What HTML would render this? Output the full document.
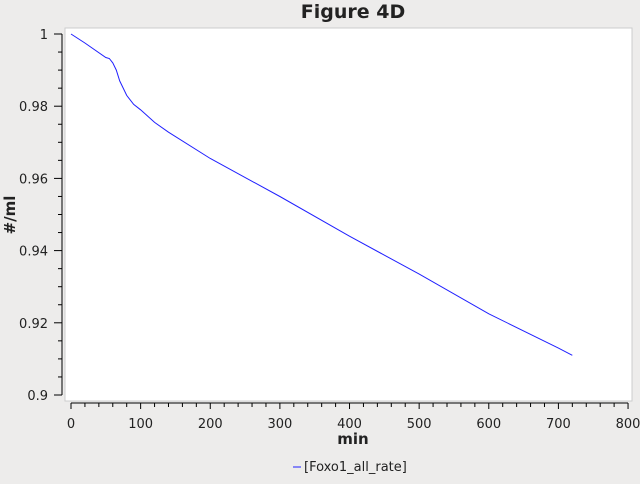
<!DOCTYPE html>
<html><head><meta charset="utf-8"><style>
body{margin:0;background:#edeceb;font-family:"DejaVu Sans","Liberation Sans",sans-serif;}
svg text{font-family:"DejaVu Sans","Liberation Sans",sans-serif;fill:#222;}
</style></head><body>
<svg id="c" width="640" height="480">
<rect x="0" y="0" width="640" height="480" fill="#edeceb"/>
<text x="353" y="18" text-anchor="middle" font-size="19" font-weight="bold">Figure 4D</text>
<rect x="65" y="28" width="567" height="373" fill="#fff" stroke="#ccc"/>
<g id="axes"></g>
<path id="line" fill="none" stroke="#2020ff" stroke-width="1"/>
<text x="353" y="444" text-anchor="middle" font-size="15" font-weight="bold">min</text>
<text transform="translate(15,215) rotate(-90)" text-anchor="middle" font-size="15" font-weight="bold">#/ml</text>
<g><line x1="293" y1="467" x2="301" y2="467" stroke="#2020ff"/><text x="304" y="471" font-size="13">[Foxo1_all_rate]</text></g>
</svg>
<script>
const xs=[0,20,50,55,60,65,70,80,90,100,120,140,200,300,400,500,600,700,720];
const ys=[1.0,0.9975,0.9935,0.9932,0.992,0.990,0.987,0.983,0.9805,0.979,0.9755,0.9728,0.9655,0.955,0.944,0.9335,0.9225,0.913,0.911];
const xTicks=[0,100,200,300,400,500,600,700,800];
const yTicks=[0.9,0.92,0.94,0.96,0.98,1];
const X=v=>71+v*0.6963, Y=v=>34+(1-v)*3610;
const NS="http://www.w3.org/2000/svg",g=document.getElementById('axes');
function el(t,a,txt){const e=document.createElementNS(NS,t);for(const k in a)e.setAttribute(k,a[k]);if(txt!==undefined)e.textContent=txt;g.appendChild(e);return e;}
el('line',{x1:62,y1:Y(1),x2:62,y2:Y(0.9),stroke:'#000'});
el('line',{x1:X(0),y1:403,x2:X(800),y2:403,stroke:'#000'});
for(let v=0.9;v<=1.0001;v+=0.005){const maj=Math.abs(Math.round(v*50)-v*50)<1e-6;el('line',{x1:maj?54:58,y1:Y(v),x2:62,y2:Y(v),stroke:'#000'});}
for(let v=0;v<=800;v+=20){const maj=v%100===0;el('line',{x1:X(v),y1:403,x2:X(v),y2:maj?409:407,stroke:'#000'});}
yTicks.forEach(v=>{const t=el('text',{x:48,y:Y(v)+5,'text-anchor':'end','font-size':13},String(v));

});
xTicks.forEach(v=>{const t=el('text',{x:X(v),y:428,'text-anchor':'middle','font-size':13},String(v));

});
document.getElementById('line').setAttribute('d',xs.map((x,i)=>(i?'L':'M')+X(x).toFixed(1)+' '+Y(ys[i]).toFixed(1)).join(' '));
</script>
</body></html>
